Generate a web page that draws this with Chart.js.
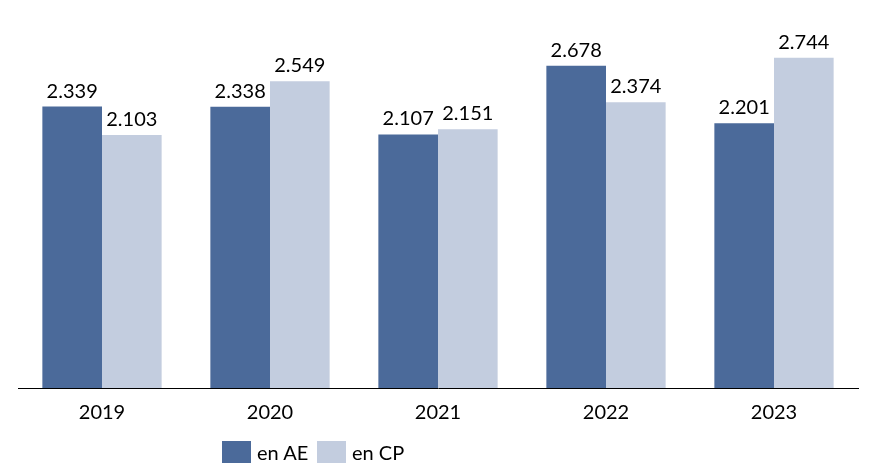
<!DOCTYPE html>
<html>
<head>
<meta charset="utf-8">
<script src="https://cdn.jsdelivr.net/npm/chart.js@4/dist/chart.umd.min.js"></script>
<style>
  body { margin: 0; background: #fff; }
  #wrap { position: relative; width: 873px; height: 474px; }
  .legend { position: absolute; top: 440px; height: 24px; font-family: Lato, sans-serif; font-size: 20px; color: #000; line-height: 24px; }
  .legend span.box { position: absolute; left: 0; top: 1px; width: 29px; height: 22px; }
  .legend span.txt { position: absolute; left: 35px; top: 0; white-space: nowrap; }
</style>
</head>
<body>
<div id="wrap">
  <canvas id="chart" width="873" height="474"></canvas>
  <div class="legend" style="left:222px"><span class="box" style="background:#4B6A9A"></span><span class="txt">en AE</span></div>
  <div class="legend" style="left:317px"><span class="box" style="background:#C3CDDF"></span><span class="txt">en CP</span></div>
</div>
<script>
var years = ['2019', '2020', '2021', '2022', '2023'];
var valuesAE = [2.339, 2.338, 2.107, 2.678, 2.201];
var valuesCP = [2.103, 2.549, 2.151, 2.374, 2.744];
var labelsAE = ['2.339', '2.338', '2.107', '2.678', '2.201'];
var labelsCP = ['2.103', '2.549', '2.151', '2.374', '2.744'];

// draws the value above each bar
var valueLabels = {
    id: 'valueLabels',
    afterDatasetsDraw: function(chart) {
        var ctx = chart.ctx;
        ctx.save();
        ctx.font = '20px Lato, sans-serif';
        ctx.fillStyle = '#000';
        ctx.textAlign = 'center';
        ctx.textBaseline = 'alphabetic';
        chart.data.datasets.forEach(function(ds, d) {
            var meta = chart.getDatasetMeta(d);
            meta.data.forEach(function(bar, i) {
                ctx.fillText(ds.valueText[i], bar.x, bar.y - 9);
            });
        });
        ctx.restore();
    }
};

var ctx = document.getElementById('chart').getContext('2d');
var chart = new Chart(ctx, {
    type: 'bar',
    data: {
        labels: years,
        datasets: [{
            label: 'en AE',
            data: valuesAE,
            valueText: labelsAE,
            backgroundColor: '#4B6A9A',
            categoryPercentage: 0.71,
            barPercentage: 1.0
        }, {
            label: 'en CP',
            data: valuesCP,
            valueText: labelsCP,
            backgroundColor: '#C3CDDF',
            categoryPercentage: 0.71,
            barPercentage: 1.0
        }]
    },
    options: {
        responsive: false,
        animation: false,
        layout: { padding: { left: 18, right: 15, top: 27, bottom: 36 } },
        plugins: {
            legend: { display: false },
            tooltip: { enabled: false }
        },
        scales: {
            x: {
                grid: { display: false },
                border: { display: true, color: '#000', width: 1 },
                ticks: { color: '#000', font: { family: 'Lato', size: 20 }, padding: 5 },
                afterFit: function(scale) { scale.height = 50; }
            },
            y: {
                display: false,
                min: 0,
                max: 3
            }
        }
    },
    plugins: [valueLabels]
});
</script>
</body>
</html>
